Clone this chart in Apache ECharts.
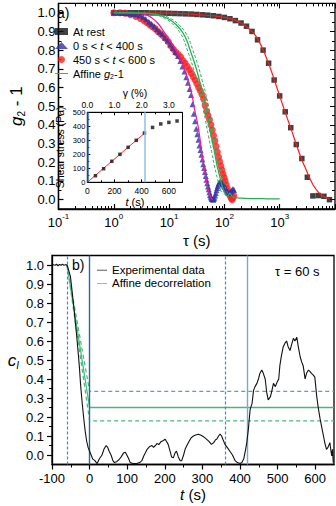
<!DOCTYPE html>
<html><head><meta charset="utf-8">
<script src="https://cdn.jsdelivr.net/npm/echarts@6/dist/echarts.min.js"></script>
<style>html,body{margin:0;padding:0;background:#fff}#c{width:336px;height:506px}</style>
</head><body><div id="c"></div>
<script>
// ---------- Panel a: g2-1 vs tau ----------
const restTau = [1,1.26,1.58,2,2.51,3.16,3.98,5.01,6.31,7.94,
  10,12.6,15.8,20,25.1,31.6,39.8,50.1,63.1,79.4,
  100,126,158,200,251,316,398,501,631,794,
  1000,1259,1585,1995,2512,3162,3981,5012,6310,7943];
const restG = [1.0,1.0,1.0,1.0,1.0,1.0,1.0,0.999,0.999,0.998,
  0.997,0.996,0.995,0.994,0.993,0.991,0.989,0.987,0.984,0.98,
  0.975,0.968,0.958,0.945,0.928,0.90,0.855,0.80,0.73,0.64,
  0.555,0.47,0.385,0.295,0.22,0.12,0.02,0.022,0.018,0.0];
const restFitTau = [1,10,30,100,200,300,400,600,800,1000,1300,1600,2000,2500,3000,3500,4000,5000,6000,7000,7900];
const restFitG = [1.0,0.998,0.99,0.975,0.945,0.905,0.86,0.745,0.64,0.555,0.455,0.38,0.295,0.215,0.16,0.115,0.08,0.04,0.02,0.01,0.005];

const blueTau = [1,1.2,1.4,1.6,1.8,2,2.3,2.6,3,3.4,
  3.8,4.3,4.8,5.4,6,6.7,7.5,8.4,9.4,10.5,
  11.7,13,14.5,16,17.5,19,20.5,22,23.5,25,
  26.5,28,29.5,31,32.5,34,35.5,37,38.5,40,
  41.5,43,44.5,46,47.5,49,50.5,52,53.5,55,
  56.5,58,59.5,61,62.5,64,66,68,70,72,
  74,76,78,80,83,86,89,92,95,98,
  101,105,109,113,117,121,125,130,135,140,
  145,150];
const blueG = [1.0,1.0,0.999,0.998,0.997,0.995,0.993,0.99,0.985,0.977,
  0.966,0.952,0.94,0.926,0.912,0.898,0.886,0.866,0.85,0.83,
  0.812,0.79,0.768,0.742,0.712,0.685,0.655,0.625,0.592,0.56,
  0.51,0.46,0.42,0.38,0.35,0.32,0.29,0.265,0.24,0.215,
  0.19,0.17,0.148,0.127,0.107,0.088,0.07,0.055,0.04,0.025,
  0.016,0.008,0.004,0.002,0.0,0.004,0.01,0.022,0.035,0.05,
  0.063,0.073,0.082,0.09,0.094,0.095,0.091,0.087,0.082,0.076,
  0.069,0.06,0.05,0.041,0.036,0.034,0.036,0.04,0.048,0.055,
  0.054,0.05];
const magTau = [1,1.58,2.5,3.3,4.1,5,6.2,7.6,9.3,12.2,15,18.2,22,25.6,29,33.6,38.5,43,48,53,57,60,62];
const magG = [1.0,1.0,0.998,0.994,0.986,0.97,0.945,0.91,0.872,0.818,0.765,0.711,0.64,0.569,0.48,0.39,0.266,0.17,0.09,0.035,0.01,0.002,0.0];

const redTau = [1,1.3,1.6,2,2.5,3,3.5,4,4.5,5,
  5.6,6.3,7,7.8,8.7,9.7,10.8,12,13.3,14.7,
  16.2,17.8,19.5,21.3,23.2,25.2,27.3,29.5,31.8,34.2,
  36.7,39.3,42,44.8,47.7,50.7,53.8,57,60.3,63.7,
  67.2,70.8,74.5,78.3,82.2,86.2,90.3,94.5,98.8,103,
  108,113,118,123,128,133,138,143,148];
const redG = [1.0,1.0,0.998,0.99,0.98,0.97,0.958,0.946,0.935,0.925,
  0.915,0.9,0.888,0.876,0.862,0.845,0.822,0.805,0.788,0.777,
  0.763,0.745,0.73,0.712,0.695,0.677,0.658,0.64,0.62,0.60,
  0.583,0.563,0.54,0.505,0.473,0.45,0.427,0.40,0.372,0.343,
  0.315,0.285,0.255,0.228,0.204,0.18,0.158,0.137,0.118,0.1,
  0.08,0.06,0.043,0.03,0.018,0.008,0.0,0.01,0.02];

const affTau = [1,3,6,10,14,18,21,24,27.5,31.5,
  36,41,46,51,58,67,74,80,86,92,
  98,105,110,115,120,125,130,135,142,150,
  170,200,300,500,700,1000];
const affG = [1.0,0.998,0.99,0.965,0.93,0.89,0.85,0.80,0.75,0.694,
  0.63,0.569,0.50,0.426,0.34,0.248,0.18,0.14,0.10,0.07,
  0.045,0.03,0.022,0.02,0.025,0.035,0.03,0.02,0.014,0.012,
  0.009,0.008,0.006,0.005,0.004,0.004];
const affLoTau = [1,2.7,5.3,8.9,12.5,16,18.7,21.4,24.5,28,32,36.5,41,45.4,51.6,59.6,65.9,71.2,76.5,81.9,87.2,93.4];
const affHiTau = [1.12,3.4,6.7,11.2,15.7,20.2,23.5,26.9,30.8,35.3,40.3,45.9,51.5,57.1,65,75,82.9,89.6,96.3,103,110,117.6];
const affDashG = [1.0,0.998,0.99,0.965,0.93,0.89,0.85,0.80,0.75,0.694,0.63,0.569,0.50,0.426,0.34,0.248,0.18,0.14,0.10,0.07,0.045,0.03];

// ---------- Inset: shear stress vs t ----------
const stressT = [60,120,180,240,300,360,420,480,540,600,660];
const stress = [47,97,150,200,250,300,352,392,417,428,438];
const stressFitT = [0,420];
const stressFitS = [0,350];
const insetMarks = [0,420];

// ---------- Panel b: c_I vs t ----------
const expT = [-100,-96,-92,-88,-84,-80,-76,-72,-68,-64,
  -60,-56,-51,-47,-42,-38,-34,-30,-27,-24,
  -20,-16,-12,-8,-4,0,4,8,14,20,
  26,33,38,44,48,52,57,62,66,72,
  78,84,90,95,99,104,108,115,125,133,
  139,144,148,153,160,166,170,175,179,184,
  190,195,201,205,209,214,218,223,227,231,
  236,241,245,250,254,258,264,270,276,282,
  289,295,300,307,313,318,324,330,335,338,
  343,347,351,355,360,366,373,380,387,393,
  400,405,410,415,418,422,427,432,436,440,
  445,449,453,458,462,467,471,475,481,485,
  489,494,498,503,506,510,515,520,524,528,
  533,537,542,546,551,555,560,564,568,571,
  573,577,582,586,590,595,599,604,608,613,
  618,622,626,630,634,639,642,644,646,648];
const expC = [1.0,1.002,0.998,1.004,0.996,1.003,0.999,1.004,0.998,1.002,
  1.0,0.974,0.94,0.87,0.78,0.70,0.62,0.53,0.46,0.37,
  0.28,0.2,0.13,0.075,0.04,0.02,0.0,-0.02,-0.03,-0.045,
  -0.02,0.0,0.03,0.05,0.04,0.02,0.0,-0.03,-0.04,-0.035,
  -0.025,-0.01,0.01,0.015,0.0,-0.02,-0.04,-0.045,-0.045,-0.04,
  -0.03,-0.005,0.01,0.03,0.045,0.05,0.04,0.05,0.06,0.055,
  0.07,0.075,0.083,0.07,0.056,0.02,-0.01,-0.014,0.01,0.02,
  -0.01,-0.03,-0.03,0.0,0.03,0.047,0.07,0.09,0.1,0.105,
  0.109,0.105,0.1,0.09,0.08,0.07,0.056,0.065,0.08,0.083,
  0.1,0.11,0.1,0.08,0.056,0.04,0.02,0.0,-0.03,-0.04,
  -0.045,-0.04,-0.02,0.03,0.065,0.13,0.24,0.27,0.34,0.36,
  0.377,0.40,0.43,0.447,0.43,0.40,0.33,0.29,0.307,0.34,
  0.377,0.36,0.38,0.40,0.47,0.52,0.57,0.59,0.60,0.57,
  0.55,0.58,0.614,0.60,0.62,0.57,0.517,0.49,0.47,0.43,
  0.40,0.43,0.447,0.44,0.43,0.42,0.41,0.31,0.25,0.19,
  0.14,0.10,0.06,0.03,0.04,0.065,0.02,-0.005,0.03,-0.04];
const affBT = [-60,0,650];
const affBC = [1.0,0.25,0.25];
const affBHi = [1.0,0.335,0.335];
const affBLo = [1.0,0.18,0.18];
const bDashedMarks = [-60,360];
const bSolidMarks = [0,420];

// ---------- tick labels ----------
const tauLabels = [0.1,1,10,100,1000];
const tauMajor = [0.1,1,10,100,1000,10000];
const gLabels = [0,0.1,0.2,0.3,0.4,0.5,0.6,0.7,0.8,0.9,1.0];
const gMinorTicks = [0.05,0.15,0.25,0.35,0.45,0.55,0.65,0.75,0.85,0.95];
const insetTLabels = [0,200,400,600];
const insetTMinor = [100,300,500];
const insetSLabels = [0,100,200,300,400,500];
const insetSMinor = [50,150,250,350,450];
const gammaLabels = [0,1,2,3];
const gammaMinor = [0.5,1.5,2.5];
const tLabels = [-100,0,100,200,300,400,500,600];
const tMinor = [-50,50,150,250,350,450,550];

const tauMinor = [];
for (let e = -1; e < 4; e++) for (let m = 2; m <= 9; m++) tauMinor.push(+(m * Math.pow(10, e)).toPrecision(3));

const FONT = '"Liberation Sans", Arial, Helvetica, sans-serif';
const pairs = (xs, ys) => xs.map((x, i) => [x, ys[i]]);
const T = (o) => Object.assign({color: '#000', fontFamily: FONT}, o);
const LINE_ICON = 'path://M0,0H20V1.4H0Z';

function overlay(grid, pos, type, min, max, vals, len, inside) {
  const a = {gridIndex: grid, position: pos, type: type, min: min, max: max,
    axisLine: {show: false, onZero: false},
    axisTick: {show: true, inside: inside, length: len, customValues: vals, lineStyle: {color: '#000', width: 1}},
    axisLabel: {show: false}, splitLine: {show: false}, minorTick: {show: false}};
  if (type === 'log') a.logBase = 10;
  return a;
}

const supRich = {
  b: T({fontSize: 13, lineHeight: 20}),
  s: T({fontSize: 8, lineHeight: 9, verticalAlign: 'top'})
};

const xAxis = [
  {gridIndex: 0, type: 'log', logBase: 10, min: 0.1, max: 10000, position: 'bottom',
   axisLine: {show: true, onZero: false, lineStyle: {color: '#000', width: 1.3}},
   axisTick: {show: true, inside: true, length: 5, customValues: tauMajor, lineStyle: {color: '#000', width: 1.2}},
   axisLabel: {customValues: tauLabels, margin: 3, formatter: v => '{b|10}{s|' + Math.round(Math.log10(v)) + '}', rich: supRich},
   splitLine: {show: false},
   name: 'τ (s)', nameLocation: 'middle', nameGap: 24, nameTextStyle: T({fontSize: 15})},
  overlay(0, 'bottom', 'log', 0.1, 10000, tauMinor, 3, true),
  overlay(0, 'top', 'log', 0.1, 10000, tauMajor, 5, true),
  overlay(0, 'top', 'log', 0.1, 10000, tauMinor, 3, true),
  {gridIndex: 1, type: 'value', min: 0, max: 700, position: 'bottom',
   axisLine: {show: true, onZero: false, lineStyle: {color: '#000', width: 1}},
   axisTick: {show: true, inside: true, length: 3, customValues: insetTLabels, lineStyle: {color: '#000'}},
   axisLabel: {customValues: insetTLabels, margin: 4, fontSize: 8.5, color: '#000', fontFamily: FONT},
   splitLine: {show: false},
   name: '{i|t} (s)', nameLocation: 'middle', nameGap: 13,
   nameTextStyle: T({fontSize: 11, rich: {i: T({fontSize: 11, fontStyle: 'italic'})}})},
  overlay(1, 'bottom', 'value', 0, 700, insetTMinor, 2, true),
  {gridIndex: 1, type: 'value', min: 0, max: 3.5, position: 'top',
   axisLine: {show: true, onZero: false, lineStyle: {color: '#000', width: 1}},
   axisTick: {show: true, inside: true, length: 3, customValues: gammaLabels, lineStyle: {color: '#000'}},
   axisLabel: {customValues: gammaLabels, margin: 3, fontSize: 8.5, color: '#000', fontFamily: FONT, formatter: v => v.toFixed(1)},
   splitLine: {show: false},
   name: 'γ (%)', nameLocation: 'middle', nameGap: 14, nameTextStyle: T({fontSize: 10.5})},
  overlay(1, 'top', 'value', 0, 3.5, gammaMinor, 2, true),
  {gridIndex: 2, type: 'value', min: -100, max: 650, position: 'bottom',
   axisLine: {show: true, onZero: false, lineStyle: {color: '#000', width: 1.3}},
   axisTick: {show: true, inside: false, length: 5, customValues: tLabels, lineStyle: {color: '#000', width: 1.2}},
   axisLabel: {customValues: tLabels, margin: 7, fontSize: 13, color: '#000', fontFamily: FONT},
   splitLine: {show: false},
   name: '{i|t} (s)', nameLocation: 'middle', nameGap: 22,
   nameTextStyle: T({fontSize: 15, rich: {i: T({fontSize: 15, fontStyle: 'italic'})}})},
  overlay(2, 'bottom', 'value', -100, 650, tMinor, 3, false)
];

const yAxis = [
  {gridIndex: 0, type: 'value', min: -0.05, max: 1.05, position: 'left',
   axisLine: {show: true, onZero: false, lineStyle: {color: '#000', width: 1.3}},
   axisTick: {show: true, inside: true, length: 5, customValues: gLabels, lineStyle: {color: '#000', width: 1.2}},
   axisLabel: {customValues: gLabels, margin: 3, fontSize: 13, color: '#000', fontFamily: FONT, formatter: v => v.toFixed(1)},
   splitLine: {show: false},
   name: '{i|g}{sub|2}{n| - 1}', nameLocation: 'middle', nameRotate: 90, nameGap: 31,
   nameTextStyle: T({fontSize: 16, rich: {
     i: T({fontSize: 17, fontStyle: 'italic', lineHeight: 20}),
     sub: T({fontSize: 10, lineHeight: 10, verticalAlign: 'bottom'}),
     n: T({fontSize: 17, lineHeight: 20})}})},
  overlay(0, 'left', 'value', -0.05, 1.05, gMinorTicks, 3, true),
  overlay(0, 'right', 'value', -0.05, 1.05, gLabels, 5, true),
  overlay(0, 'right', 'value', -0.05, 1.05, gMinorTicks, 3, true),
  {gridIndex: 1, type: 'value', min: 0, max: 500, position: 'left',
   axisLine: {show: true, onZero: false, lineStyle: {color: '#000', width: 1}},
   axisTick: {show: true, inside: true, length: 3, customValues: insetSLabels, lineStyle: {color: '#000'}},
   axisLabel: {customValues: insetSLabels, margin: 2, fontSize: 7.5, color: '#000', fontFamily: FONT},
   splitLine: {show: false},
   name: 'Shear stress (Pa)', nameLocation: 'middle', nameRotate: 90, nameGap: 22, nameTextStyle: T({fontSize: 10.5})},
  overlay(1, 'left', 'value', 0, 500, insetSMinor, 2, true),
  {gridIndex: 2, type: 'value', min: -0.05, max: 1.05, position: 'left',
   axisLine: {show: true, onZero: false, lineStyle: {color: '#000', width: 1.3}},
   axisTick: {show: true, inside: false, length: 5, customValues: gLabels, lineStyle: {color: '#000', width: 1.2}},
   axisLabel: {customValues: gLabels, margin: 8, fontSize: 13, color: '#000', fontFamily: FONT, formatter: v => v.toFixed(1)},
   splitLine: {show: false},
   name: '{i|c}{sub|I}', nameLocation: 'middle', nameRotate: 0, nameGap: 33,
   nameTextStyle: T({fontSize: 16, rich: {
     i: T({fontSize: 17, fontStyle: 'italic', lineHeight: 20}),
     sub: T({fontSize: 10, fontStyle: 'italic', lineHeight: 10, verticalAlign: 'bottom'})}})},
  overlay(2, 'left', 'value', -0.05, 1.05, gMinorTicks, 3, false)
];

const GREEN_A = '#27ae55';
const GREEN_B = '#45b97a';
const dashSmall = [3, 2];

const series = [
  {name: 'At rest', type: 'scatter', xAxisIndex: 0, yAxisIndex: 0, symbol: 'rect', symbolSize: 5.5,
   itemStyle: {color: '#111'}, data: pairs(restTau, restG), z: 3},
  {name: 'restFit', type: 'line', xAxisIndex: 0, yAxisIndex: 0, symbol: 'none', showSymbol: false, smooth: true,
   itemStyle: {color: '#ff1a1a'}, lineStyle: {color: '#ff1a1a', width: 1.2}, data: pairs(restFitTau, restFitG), z: 4},
  {name: '450 s < t < 600 s', type: 'scatter', xAxisIndex: 0, yAxisIndex: 0, symbol: 'circle', symbolSize: 7,
   itemStyle: {color: '#ff2222'}, data: pairs(redTau, redG), z: 3},
  {name: '0 s < t < 400 s', type: 'scatter', xAxisIndex: 0, yAxisIndex: 0, symbol: 'triangle', symbolSize: 6,
   itemStyle: {color: '#3232a4'}, data: pairs(blueTau, blueG), z: 4},
  {name: 'magFit', type: 'line', xAxisIndex: 0, yAxisIndex: 0, symbol: 'none', showSymbol: false, smooth: true,
   itemStyle: {color: '#ee1a9a'}, lineStyle: {color: '#ee1a9a', width: 1.2}, data: pairs(magTau, magG), z: 5},
  {name: 'Affine g2-1', type: 'line', xAxisIndex: 0, yAxisIndex: 0, symbol: 'none', showSymbol: false, smooth: true,
   itemStyle: {color: GREEN_A}, lineStyle: {color: GREEN_A, width: 1.3}, data: pairs(affTau, affG), z: 6},
  {name: 'affLo', type: 'line', xAxisIndex: 0, yAxisIndex: 0, symbol: 'none', showSymbol: false, smooth: true,
   itemStyle: {color: GREEN_A}, lineStyle: {color: GREEN_A, width: 1, type: dashSmall}, data: pairs(affLoTau, affDashG), z: 6},
  {name: 'affHi', type: 'line', xAxisIndex: 0, yAxisIndex: 0, symbol: 'none', showSymbol: false, smooth: true,
   itemStyle: {color: GREEN_A}, lineStyle: {color: GREEN_A, width: 1, type: dashSmall}, data: pairs(affHiTau, affDashG), z: 6},
  {name: 'stressFit', type: 'line', xAxisIndex: 4, yAxisIndex: 4, symbol: 'none', showSymbol: false,
   itemStyle: {color: '#ff2a2a'}, lineStyle: {color: '#ff2a2a', width: 1}, data: pairs(stressFitT, stressFitS), z: 3,
   markLine: {symbol: 'none', silent: true, animation: false, label: {show: false},
     data: insetMarks.map((v, i) => ({xAxis: v, lineStyle: {type: 'solid', width: 1.5, color: i === 0 ? '#2566b0' : '#8cc0e8'}}))}},
  {name: 'stress', type: 'scatter', xAxisIndex: 4, yAxisIndex: 4, symbol: 'rect', symbolSize: 3.5,
   itemStyle: {color: '#111'}, data: pairs(stressT, stress), z: 4},
  {name: 'Experimental data', type: 'line', xAxisIndex: 8, yAxisIndex: 6, symbol: 'none', showSymbol: false,
   itemStyle: {color: '#111'}, lineStyle: {color: '#111', width: 1.1}, data: pairs(expT, expC), z: 5,
   markLine: {symbol: 'none', silent: true, animation: false, label: {show: false},
     data: bDashedMarks.map(v => ({xAxis: v, lineStyle: {type: dashSmall, width: 1.2, color: '#3a8ad6'}}))
       .concat(bSolidMarks.map((v, i) => ({xAxis: v, lineStyle: {type: 'solid', width: 1.4, color: i === 0 ? '#2566b0' : '#6aaee0'}})))}},
  {name: 'Affine decorrelation', type: 'line', xAxisIndex: 8, yAxisIndex: 6, symbol: 'none', showSymbol: false,
   itemStyle: {color: GREEN_B}, lineStyle: {color: GREEN_B, width: 1.3}, data: pairs(affBT, affBC), z: 4},
  {name: 'affBHi', type: 'line', xAxisIndex: 8, yAxisIndex: 6, symbol: 'none', showSymbol: false,
   itemStyle: {color: GREEN_B}, lineStyle: {color: GREEN_B, width: 1.2, type: [4, 3]}, data: pairs(affBT, affBHi), z: 4},
  {name: 'affBLo', type: 'line', xAxisIndex: 8, yAxisIndex: 6, symbol: 'none', showSymbol: false,
   itemStyle: {color: GREEN_B}, lineStyle: {color: GREEN_B, width: 1.2, type: [4, 3]}, data: pairs(affBT, affBLo), z: 4}
];

const legendA = {
  data: [{name: 'At rest', icon: 'rect'}, {name: '0 s < t < 400 s', icon: 'triangle'},
         {name: '450 s < t < 600 s', icon: 'circle'}, {name: 'Affine g2-1', icon: LINE_ICON}],
  orient: 'vertical', left: 55, top: 25, padding: 0, itemGap: 1, itemWidth: 13, itemHeight: 7,
  selectedMode: false,
  formatter: function (n) {
    if (n === 'Affine g2-1') return 'Affine {i|g}{sub|2}-1';
    return n.replace(' t ', ' {i|t} ');
  },
  textStyle: T({fontSize: 11, lineHeight: 13, rich: {
    i: T({fontSize: 11, fontStyle: 'italic', lineHeight: 13}),
    sub: T({fontSize: 7, lineHeight: 7, verticalAlign: 'bottom'})}})
};
const legendB = {
  data: [{name: 'Experimental data', icon: LINE_ICON}, {name: 'Affine decorrelation', icon: LINE_ICON}],
  orient: 'vertical', left: 97, top: 263.5, padding: 0, itemGap: 0, itemWidth: 10, itemHeight: 7,
  selectedMode: false,
  textStyle: T({fontSize: 11.5, lineHeight: 13.3})
};

const option = {
  animation: false,
  backgroundColor: '#fff',
  title: [
    {text: 'a)', left: 57, top: 6, padding: 0, textStyle: T({fontSize: 14, fontWeight: 'normal'})},
    {text: 'b)', left: 72, top: 258, padding: 0, textStyle: T({fontSize: 14, fontWeight: 'normal'})},
    {text: 'τ = 60 s', left: 275, top: 265, padding: 0, textStyle: T({fontSize: 13, fontWeight: 'normal'})}
  ],
  legend: [legendA, legendB],
  grid: [
    {left: 52, top: 3.4, width: 283, height: 205.6, show: true, borderColor: '#000', borderWidth: 1.3, backgroundColor: 'transparent', containLabel: false},
    {left: 87.3, top: 112.3, width: 95.2, height: 70, show: true, borderColor: '#000', borderWidth: 1, backgroundColor: '#fff', containLabel: false},
    {left: 52, top: 255.5, width: 282, height: 209, show: true, borderColor: '#000', borderWidth: 1.3, backgroundColor: 'transparent', containLabel: false}
  ],
  xAxis: xAxis,
  yAxis: yAxis,
  series: series
};

const chart = echarts.init(document.getElementById('c'), null, {renderer: 'svg'});
chart.setOption(option);
</script></body></html>
